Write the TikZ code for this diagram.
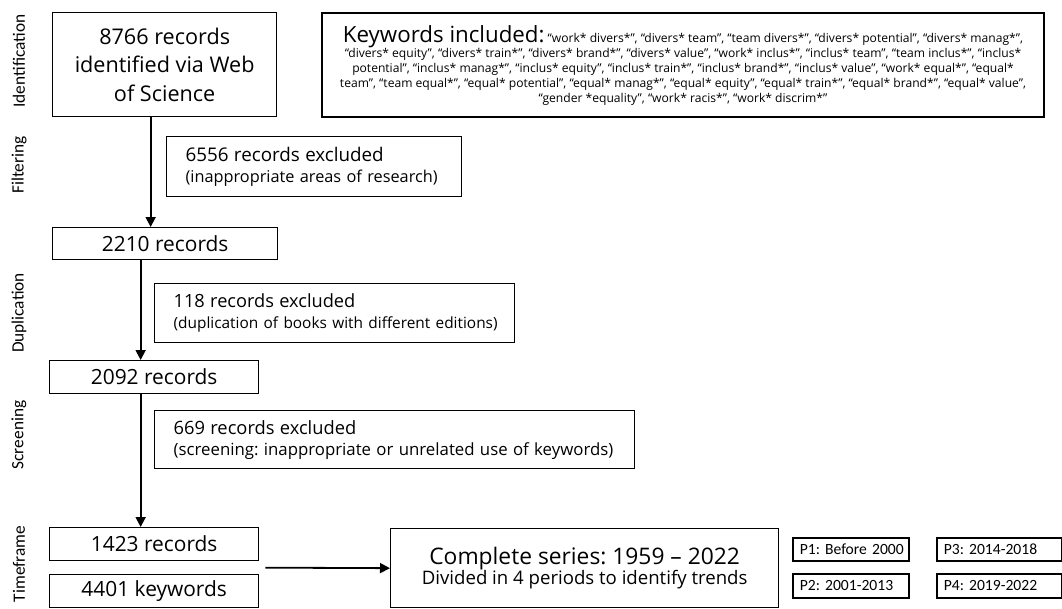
\documentclass[tikz,border=0pt]{standalone}
\usepackage{fontspec}
\setmainfont{Open Sans}
\newfontfamily\sidefont{Carlito}
\usetikzlibrary{arrows.meta,calc}

\begin{document}
\frenchspacing
\begin{tikzpicture}[x=1pt,y=-1pt,
  box/.style={draw, line width=1.3pt, anchor=north west, inner sep=0pt},
  stagebox/.style={box, align=left, inner xsep=19pt, font=\fontsize{16}{21}\selectfont},
  countbox/.style={box, font=\fontsize{20.9}{24}\selectfont},
  periodbox/.style={box, line width=1.6pt, align=left, inner xsep=7pt, font=\sidefont\fontsize{15.6}{18}\selectfont},
  phase/.style={rotate=90, font=\sidefont\fontsize{17.3}{18}\selectfont},
  flow/.style={line width=1.8pt, -{Triangle[width=10pt,length=10pt]}}
]
\useasboundingbox (0,0) rectangle (1062,608);

% phase labels
\node[phase] (pid)  at (19,61)  {Identification};
\node[phase] (pfil) at (19,165) {Filtering};
\node[phase] (pdup) at (19,313) {Duplication};
\node[phase] (pscr) at (19,435) {Screening};
\node[phase] (ptim) at (19,564) {Timeframe};

% identification
\node[box, minimum width=224pt, minimum height=104pt, align=center,
      font=\fontsize{21.6}{28.5}\selectfont] (ident) at (52,12)
  {8766 records\\identified via Web\\of Science};

\node[box, line width=2pt, minimum width=722pt, minimum height=104pt, align=center,
      font=\fontsize{12.1}{15}\selectfont] (kw) at (321,12)
  {{\fontsize{22.3}{21}\selectfont Keywords included:} “work* divers*”, “divers* team”, “team divers*”, “divers* potential”, “divers* manag*”,\\
   “divers* equity”, “divers* train*”, “divers* brand*”, “divers* value”, “work* inclus*”, “inclus* team”, “team inclus*”, “inclus*\\
   potential”, “inclus* manag*”, “inclus* equity”, “inclus* train*”, “inclus* brand*”, “inclus* value”, “work* equal*”, “equal*\\
   team”, “team equal*”, “equal* potential”, “equal* manag*”, “equal* equity”, “equal* train*”, “equal* brand*”, “equal* value”,\\
   “gender *equality”, “work* racis*”, “work* discrim*”};

% filtering
\node[stagebox, text width=257pt, minimum height=60pt] (exfil) at (166,136)
  {\mbox{\fontsize{18.8}{21}\selectfont 6556 records excluded}\\\mbox{\fontsize{16.3}{21}\selectfont(inappropriate areas of research)}};
\node[countbox, minimum width=225pt, minimum height=32pt] (r2210) at (52,227) {2210 records};

% duplication
\node[stagebox, text width=322pt, minimum height=59pt] (exdup) at (154,283)
  {\mbox{\fontsize{18.2}{21}\selectfont 118 records excluded}\\\mbox{\fontsize{15.4}{21}\selectfont(duplication of books with different editions)}};
\node[countbox, minimum width=209pt, minimum height=33pt] (r2092) at (49,360) {2092 records};

% screening
\node[stagebox, text width=442pt, minimum height=58pt] (exscr) at (154,410)
  {\mbox{\fontsize{18.3}{21}\selectfont 669 records excluded}\\\mbox{\fontsize{16.8}{21}\selectfont(screening:\ inappropriate or unrelated use of keywords)}};

% timeframe
\node[countbox, minimum width=209pt, minimum height=33pt] (r1423) at (49,527) {1423 records};
\node[countbox, minimum width=209pt, minimum height=33pt] (k4401) at (49,574) {4401 keywords};

\node[box, minimum width=388pt, minimum height=79pt, align=center,
      font=\fontsize{18.6}{19}\selectfont] (series) at (390,528)
  {{\fontsize{22.8}{22}\selectfont Complete series:\ 1959 -- 2022}\\Divided in 4 periods to identify trends};

\node[periodbox, text width=102pt, minimum height=23pt] (p1) at (792,537) {\mbox{P1:\ Before 2000}};
\node[periodbox, text width=111pt, minimum height=23pt] (p3) at (936,537) {\mbox{P3:\ 2014-2018}};
\node[periodbox, text width=102pt, minimum height=24pt] (p2) at (792,573) {\mbox{P2:\ 2001-2013}};
\node[periodbox, text width=111pt, minimum height=24pt] (p4) at (936,573) {\mbox{P4:\ 2019-2022}};

% connectors
\draw[flow] ([xshift=-14pt]ident.south) -- ([xshift=-14.5pt]r2210.north);
\draw[flow] ([xshift=-24.5pt]r2210.south) -- ([xshift=-13.5pt]r2092.north);
\draw[flow] ([xshift=-13.5pt]r2092.south) -- ([xshift=-13.5pt]r1423.north);
\coordinate (tfmid) at ($(r1423.south east)!0.5!(k4401.north east)+(6,0)$);
\draw[flow] (tfmid) -- (series.west);
\end{tikzpicture}
\end{document}
